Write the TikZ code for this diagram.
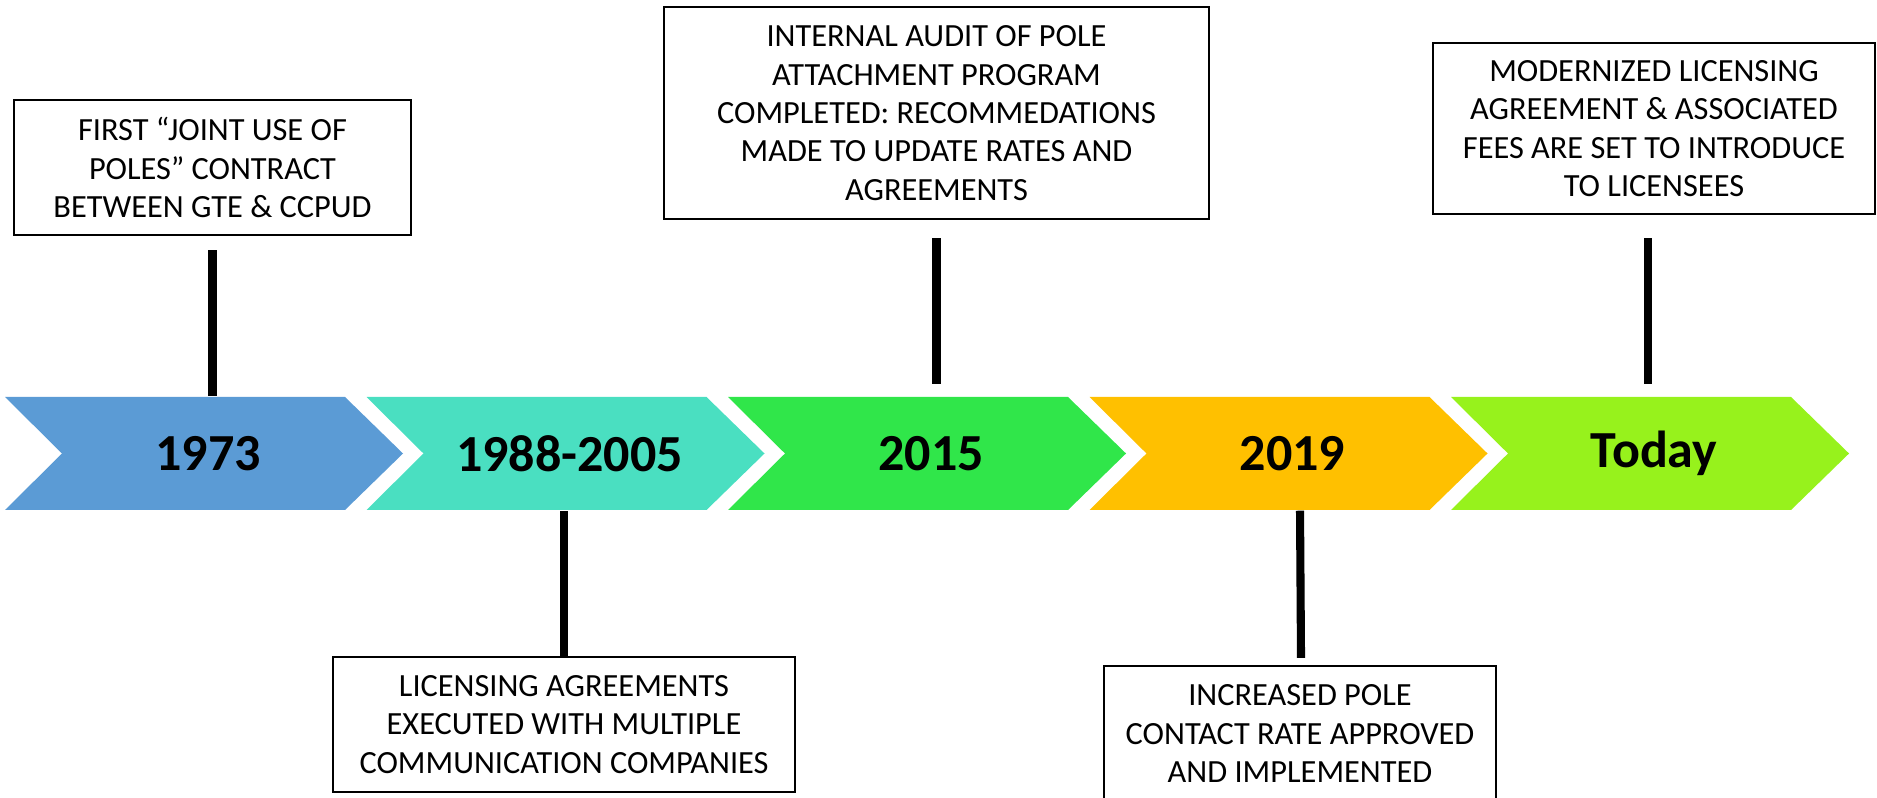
\documentclass[tikz,border=0pt]{standalone}
\usepackage{fontspec}
\setmainfont{Carlito}
\usepackage{tikz}
\definecolor{cBlue}{HTML}{5B9BD5}
\definecolor{cTeal}{HTML}{4ADFC1}
\definecolor{cGreen}{HTML}{30E64A}
\definecolor{cGold}{HTML}{FFC000}
\definecolor{cLime}{HTML}{97F21C}
\tikzset{
	note/.style={draw=black,line width=0.6pt,fill=white,align=center,inner sep=0pt,font=\fontsize{9.2}{10.9}\selectfont},
	yearlbl/.style={font=\fontsize{14.8}{17}\selectfont\bfseries,minimum height=1.13cm,inner sep=0pt},
	stem/.style={line width=2.3pt}
}

\begin{document}
\begin{tikzpicture}[x=0.01cm,y=-0.01cm]
	\useasboundingbox (0,0) rectangle (1877,798);
	
	% Chevrons:
	\foreach \n/\yr/\col in {0/1973/cBlue,1/1988-2005/cTeal,2/2015/cGreen,3/2019/cGold,4/Today/cLime}
	{
		\fill[\col] (5+361.5*\n,397) -- ++(340,0) -- ++(58,56.5) -- ++(-58,56.5) -- ++(-340,0) -- ++(57,-56.5) -- cycle;
		\node[yearlbl] (y\n) at (208+361.5*\n,453.5) {\yr};
	}
	
	% Notes above:
	\node[note,minimum width=3.97cm,minimum height=1.35cm] (b1) at (212.5,167.5) {FIRST “JOINT USE OF\\POLES” CONTRACT\\BETWEEN GTE \& CCPUD};
	\node[note,minimum width=5.45cm,minimum height=2.12cm] (b3) at (936.5,113) {INTERNAL AUDIT OF POLE\\ATTACHMENT PROGRAM\\COMPLETED: RECOMMEDATIONS\\MADE TO UPDATE RATES AND\\AGREEMENTS};
	\node[note,minimum width=4.42cm,minimum height=1.71cm] (b5) at (1654,128.5) {MODERNIZED LICENSING\\AGREEMENT \& ASSOCIATED\\FEES ARE SET TO INTRODUCE\\TO LICENSEES};
	
	% Notes below:
	\node[note,minimum width=4.62cm,minimum height=1.35cm] (b2) at (564,724.5) {LICENSING AGREEMENTS\\EXECUTED WITH MULTIPLE\\COMMUNICATION COMPANIES};
	\node[note,minimum width=3.92cm,minimum height=1.35cm] (b4) at (1300,733.5) {INCREASED POLE\\CONTACT RATE APPROVED\\AND IMPLEMENTED};
	
	% Stems:
	\draw[stem] (b1.south) ++(0,14) -- (b1.south |- y0.north);
	\draw[stem] (b3.south) ++(0,18) -- ++(0,146);
	\draw[stem] (b5.south) ++(-6,23) -- ++(0,146);
	\draw[stem] (b2.north) -- (b2.north |- y1.south);
	\draw[stem] (b4.north) ++(1,-7) -- (b4.north |- y3.south);
	
\end{tikzpicture}
\end{document}
